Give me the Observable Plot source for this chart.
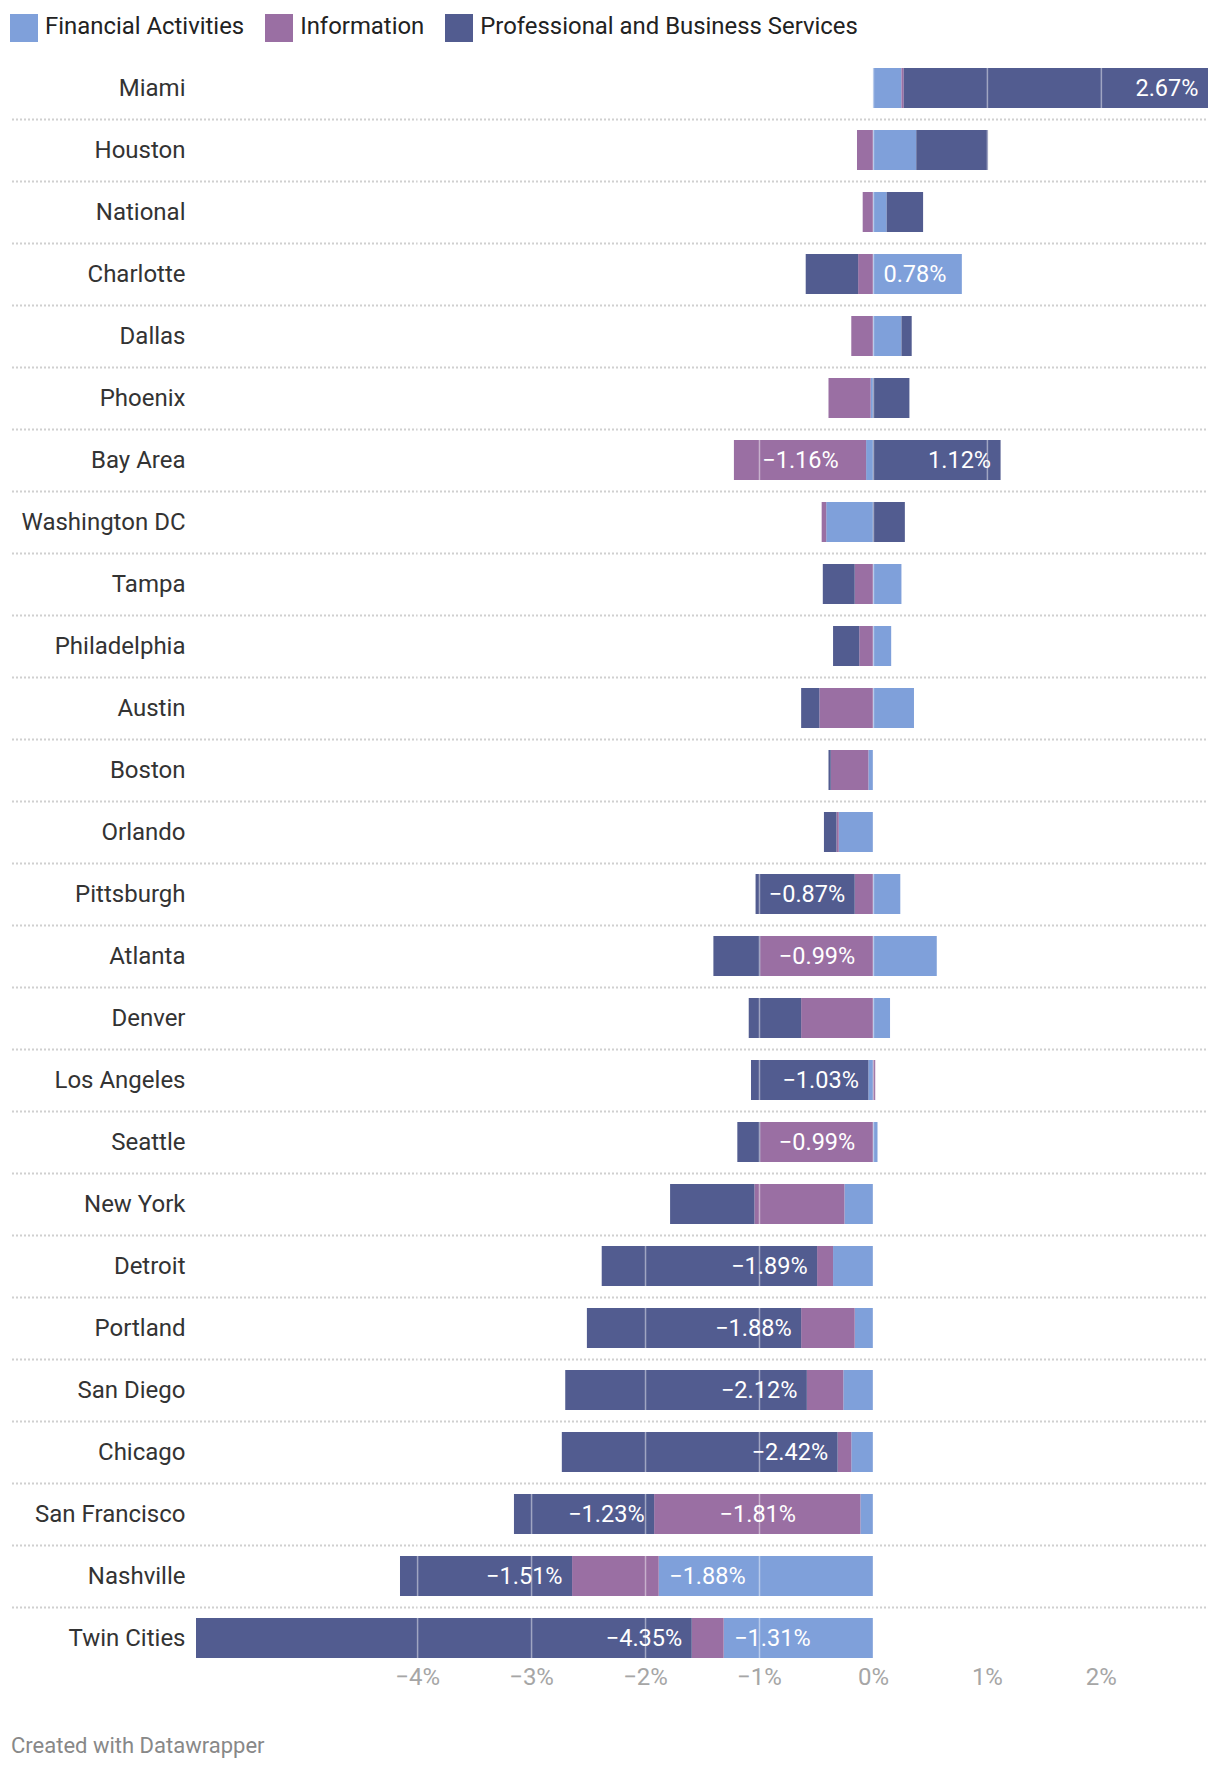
<!DOCTYPE html>
<html>
<head>
<meta charset="utf-8">
<script src="https://cdn.jsdelivr.net/npm/d3@7"></script>
<script src="https://cdn.jsdelivr.net/npm/@observablehq/plot@0.6"></script>
<style>
  body { margin: 0; background: #fff; font-family: Roboto, sans-serif; width: 1220px; height: 1772px; position: relative; overflow: hidden; }
  #legend { position: absolute; left: 10px; top: 14px; display: flex; align-items: center; }
  .item { display: flex; align-items: center; margin-right: 21px; font-size: 23.9px; color: #222; line-height: 28px; }
  .item span.t { position: relative; top: -2px; }
  .sw { width: 28px; height: 28px; margin-right: 7px; }
  #chart { position: absolute; left: 0; top: 56px; width: 1220px; }
  #footer { position: absolute; left: 11px; top: 1733px; font-size: 22px; color: #888; line-height: 26px; }
</style>
</head>
<body>
<div id="legend"></div>
<div id="chart"></div>
<div id="footer">Created with Datawrapper</div>
<script>
const cities = ["Miami","Houston","National","Charlotte","Dallas","Phoenix","Bay Area","Washington DC","Tampa","Philadelphia","Austin","Boston","Orlando","Pittsburgh","Atlanta","Denver","Los Angeles","Seattle","New York","Detroit","Portland","San Diego","Chicago","San Francisco","Nashville","Twin Cities"];
const financial    = [0.25, 0.38, 0.12, 0.78, 0.25, -0.02, -0.06, -0.41, 0.25, 0.16, 0.36, -0.04, -0.30, 0.24, 0.56, 0.15, -0.04, 0.04, -0.25, -0.35, -0.16, -0.26, -0.19, -0.11, -1.88, -1.31];
const information  = [0.02, -0.14, -0.09, -0.13, -0.19, -0.37, -1.16, -0.04, -0.16, -0.12, -0.47, -0.33, -0.02, -0.16, -0.99, -0.63, 0.02, -0.99, -0.79, -0.14, -0.47, -0.32, -0.12, -1.81, -0.76, -0.28];
const professional = [2.67, 0.63, 0.32, -0.46, 0.09, 0.32, 1.12, 0.28, -0.28, -0.23, -0.16, -0.02, -0.11, -0.87, -0.41, -0.46, -1.03, -0.20, -0.74, -1.89, -1.88, -2.12, -2.42, -1.23, -1.51, -4.35];
const sectors = ["Financial Activities", "Information", "Professional and Business Services"];
const colors = ["#7fa0da", "#9a6fa3", "#525c90"];
const xTicks = [-4, -3, -2, -1, 0, 1, 2];

// legend
const legend = document.getElementById("legend");
sectors.forEach((s, i) => {
  const it = document.createElement("div");
  it.className = "item";
  it.innerHTML = `<div class="sw" style="background:${colors[i]}"></div><span class="t">${s}</span>`;
  legend.appendChild(it);
});

// long table
const series = [financial, information, professional];
const rows = [];
cities.forEach((c, i) => {
  series.forEach((arr, k) => rows.push({city: c, sector: sectors[k], value: arr[i], k}));
});
const negSum = cities.map((c, i) => series.map(a => a[i]).filter(v => v < 0).reduce((a, b) => a + b, 0));
const posSum = cities.map((c, i) => series.map(a => a[i]).filter(v => v > 0).reduce((a, b) => a + b, 0));
const xDomain = [d3.min(negSum), d3.max(posSum)];
const xRange = [196, 1208];
const pxPerUnit = (xRange[1] - xRange[0]) / (xDomain[1] - xDomain[0]);

const fmt = v => (v < 0 ? "\u2212" : "") + Math.abs(v).toFixed(2) + "%";
const tickFmt = d => (d < 0 ? "\u2212" : "") + Math.abs(d) + "%";
const ctx = document.createElement("canvas").getContext("2d");
ctx.font = "23.5px Roboto";
const fits = d => Math.abs(d.value) * pxPerUnit >= ctx.measureText(fmt(d.value)).width + 18;
const lab = cond => d => (cond(d) && fits(d)) ? fmt(d.value) : null;

const so = {x: "value", y: "city", z: "sector"};
const txt = {fill: "white"};

const chart = Plot.plot({
  width: 1220,
  height: 1660,
  marginTop: 1,
  marginBottom: 47,
  marginLeft: 12,
  marginRight: 12,
  x: {domain: xDomain, range: xRange, axis: null},
  y: {domain: cities, paddingInner: 0.355, paddingOuter: 0.1775, axis: null},
  color: {domain: sectors, range: colors},
  style: {fontFamily: "Roboto, sans-serif", fontSize: "23.5px", background: "transparent"},
  marks: [
    Plot.ruleY(cities.slice(1), {y: d => d, dy: -31, stroke: "#d0d0d0", strokeWidth: 2, strokeDasharray: "2,2"}),
    Plot.barX(rows, Plot.stackX({...so, fill: "sector"})),
    Plot.text(rows, Plot.stackX1({...so, ...txt, text: lab(d => d.k === 0 && d.value >= 0), textAnchor: "start", dx: 10})),
    Plot.text(rows, Plot.stackX2({...so, ...txt, text: lab(d => d.k === 0 && d.value < 0), textAnchor: "start", dx: 10})),
    Plot.text(rows, Plot.stackX({...so, ...txt, text: lab(d => d.k === 1)})),
    Plot.text(rows, Plot.stackX2({...so, ...txt, text: lab(d => d.k === 2 && d.value >= 0), textAnchor: "end", dx: -10})),
    Plot.text(rows, Plot.stackX1({...so, ...txt, text: lab(d => d.k === 2 && d.value < 0), textAnchor: "end", dx: -10})),
    Plot.ruleX(xTicks, {x: d => d, stroke: "white", strokeOpacity: 0.45, strokeWidth: 1.5}),
    Plot.text(cities, {y: d => d, text: d => d, frameAnchor: "left", textAnchor: "end", dx: 173, fill: "#333", fontSize: 24}),
    Plot.text(xTicks, {x: d => d, text: tickFmt, frameAnchor: "bottom", dy: 15, fill: "#a6a6a6", fontSize: 24})
  ]
});
document.getElementById("chart").appendChild(chart);
</script>
</body>
</html>
